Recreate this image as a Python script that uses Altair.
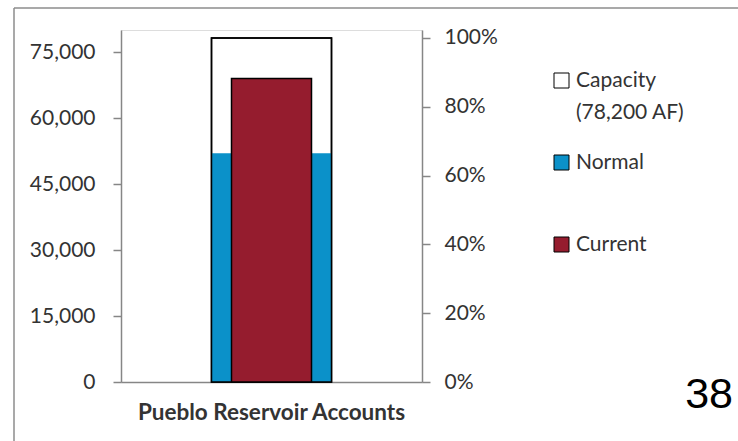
import altair as alt
import pandas as pd

# ---- data ----
accounts = ["Pueblo Reservoir Accounts"]
series = ["Capacity", "Normal", "Current"]
acre_feet = [78200, 52000, 69000]
capacity_af = 78200
capacity_note = "(78,200 AF)"
left_ticks = [0, 15000, 30000, 45000, 60000, 75000]
right_ticks = [0, 0.2, 0.4, 0.6, 0.8, 1.0]
left_max = 80000
colors = ["#FFFFFF", "#0B91C9", "#951C2E"]
page_label = ["38"]

df = pd.DataFrame({"account": accounts * len(series), "series": series, "af": acre_feet})
df["pct"] = df["af"] / capacity_af

FONT = "Lato"
GRAY = "#868686"
TXT = "#333333"

# every legend label gets two lines so that the rows are evenly spaced
label_expr = "datum.label == '%s' ? [datum.label, '%s'] : [datum.label, '']" % (
    series[0], capacity_note)

color = alt.Color(
    "series:N",
    scale=alt.Scale(domain=series, range=colors),
    legend=alt.Legend(
        title=None, orient="none", legendX=430, legendY=40, padding=0,
        symbolType="square", symbolSize=225, symbolStrokeColor="black",
        symbolStrokeWidth=1, symbolOpacity=1, labelFont=FONT, labelFontSize=21,
        labelColor=TXT, labelOffset=4, rowPadding=28, labelExpr=label_expr,
        labelLimit=300,
    ),
)

x = alt.X(
    "account:N", title=None,
    axis=alt.Axis(labelAngle=0, ticks=False, labelFont=FONT, labelFontSize=22.5,
                  labelFontWeight="bold", labelColor=TXT, labelPadding=19,
                  labelLimit=500, domainColor=GRAY, domainWidth=1.5),
)
y_left = alt.Y(
    "af:Q", title=None,
    scale=alt.Scale(domain=[0, left_max], nice=False),
    axis=alt.Axis(values=left_ticks, format=",.0f", grid=False, domainColor=GRAY,
                  domainWidth=1.5, tickColor=GRAY, tickWidth=1.5, tickSize=8,
                  labelPadding=18, labelFont=FONT, labelFontSize=21, labelColor=TXT),
)
y_right = alt.Y(
    "pct:Q", title=None,
    scale=alt.Scale(domain=[0, left_max / capacity_af], nice=False),
    axis=alt.Axis(orient="right", values=right_ticks, format=".0%", grid=False,
                  domainColor=GRAY, domainWidth=1.5, tickColor=GRAY, tickWidth=1.5,
                  tickSize=8, labelPadding=14, labelFont=FONT, labelFontSize=21,
                  labelColor=TXT),
)

base = alt.Chart(df)
cap_fill = base.transform_filter("datum.series == 'Capacity'").mark_bar(
    size=120, stroke="black", strokeWidth=1.5).encode(x=x, y=y_left, color=color)
normal = base.transform_filter("datum.series == 'Normal'").mark_bar(
    size=120, strokeWidth=0).encode(x=x, y=y_left, color=color)
cap_line = base.transform_filter("datum.series == 'Capacity'").mark_bar(
    size=120, fillOpacity=0, stroke="black", strokeWidth=1.5).encode(x=x, y=y_left)
current = base.transform_filter("datum.series == 'Current'").mark_bar(
    size=80, stroke="black", strokeWidth=1.5).encode(x=x, y=y_left, color=color)

frame_df = pd.DataFrame({"k": [0]})
frame_left = alt.Chart(frame_df).mark_rule(color="#8C8C8C", strokeWidth=1.5).encode(
    x=alt.value(-107), y=alt.value(-22), y2=alt.value(411))
frame_top = alt.Chart(frame_df).mark_rule(color="#8C8C8C", strokeWidth=1.5).encode(
    x=alt.value(-107), x2=alt.value(617), y=alt.value(-22))
page = alt.Chart(pd.DataFrame({"t": page_label})).mark_text(
    font="Liberation Sans", fontSize=43, color="black", align="right", baseline="alphabetic"
).encode(x=alt.value(612), y=alt.value(378), text="t:N")

left = alt.layer(cap_fill, normal, cap_line, current, frame_left, frame_top, page)
right = base.transform_filter("datum.series == 'Capacity'").mark_bar(
    size=120, opacity=0).encode(x=x, y=y_right)

chart = alt.layer(left, right).resolve_scale(y="independent").properties(
    width=301, height=352,
    autosize=alt.AutoSizeParams(type="none"),
    padding={"left": 121, "top": 30, "right": 316, "bottom": 59},
    background="white",
).configure_view(stroke=None).configure(style={"guide-label": {"lineHeight": 32}})

chart.save("out.html", embed_options={"renderer": "svg", "actions": False})
